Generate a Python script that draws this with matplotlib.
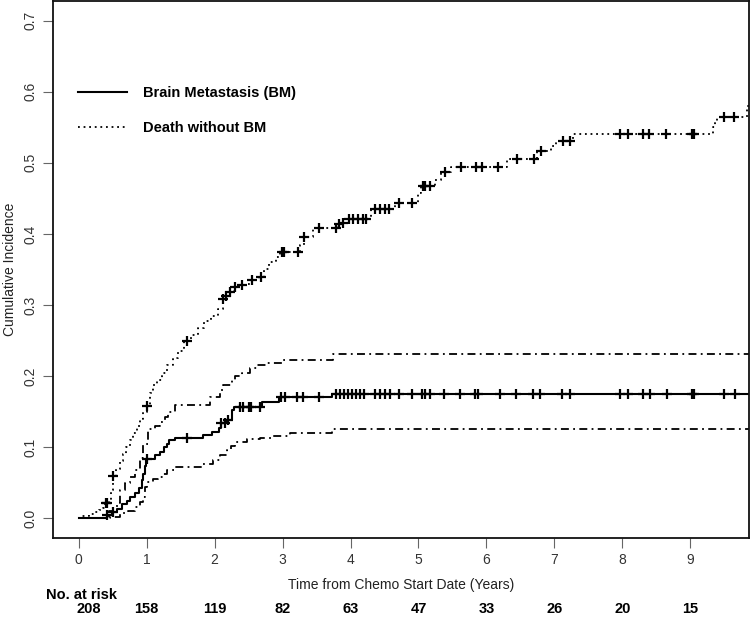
import numpy as np
import matplotlib
matplotlib.use('Agg')
import matplotlib.pyplot as plt
import matplotlib.transforms as mtransforms

plt.rcParams['font.family'] = ['Liberation Sans', 'DejaVu Sans']

# ---- data ----
# Brain metastasis cumulative incidence (step, post)
bm_t = [0.0, 0.41, 0.49, 0.56, 0.63, 0.71, 0.76, 0.83, 0.88, 0.93, 0.95, 0.97, 0.99,
        1.12, 1.20, 1.25, 1.30, 1.33, 1.42, 1.83, 1.96, 2.06, 2.09, 2.17, 2.25, 2.28,
        2.69, 2.95, 3.72]
bm_y = [0.0, 0.005, 0.009, 0.013, 0.020, 0.025, 0.030, 0.035, 0.042, 0.054, 0.063, 0.073, 0.084,
        0.089, 0.094, 0.101, 0.105, 0.110, 0.1125, 0.117, 0.122, 0.1265, 0.134, 0.139, 0.152, 0.157,
        0.163, 0.170, 0.175]
bm_cens = [0.41, 0.51, 1.00, 1.60, 2.10, 2.15, 2.20, 2.37, 2.41, 2.51, 2.53, 2.67,
           2.98, 3.03, 3.21, 3.30, 3.53, 3.78, 3.84, 3.90, 3.96, 4.02, 4.08, 4.14, 4.20,
           4.36, 4.43, 4.51, 4.58, 4.72, 4.91, 5.05, 5.10, 5.17, 5.37, 5.61, 5.83, 5.88,
           6.20, 6.44, 6.69, 6.79, 7.11, 7.23, 7.97, 8.09, 8.31, 8.40, 8.65, 9.03, 9.05,
           9.50, 9.66]

# 95% CI of BM incidence
up_t = [0.0, 0.45, 0.50, 0.56, 0.61, 0.68, 0.75, 0.83, 0.90, 0.95, 1.02, 1.12, 1.20, 1.27,
        1.32, 1.42, 1.93, 2.08, 2.13, 2.25, 2.30, 2.40, 2.52, 2.62, 2.75, 3.00, 3.74]
up_y = [0.0, 0.010, 0.015, 0.021, 0.040, 0.050, 0.058, 0.068, 0.085, 0.105, 0.125, 0.130, 0.136, 0.143,
        0.150, 0.159, 0.171, 0.180, 0.1875, 0.195, 0.200, 0.205, 0.211, 0.215, 0.218, 0.2225, 0.231]
lo_t = [0.0, 0.46, 0.61, 0.72, 0.83, 0.90, 0.95, 0.98, 1.01, 1.10, 1.17, 1.24, 1.30, 1.42,
        1.83, 1.98, 2.08, 2.18, 2.24, 2.30, 2.47, 2.67, 2.86, 3.11, 3.30, 3.72]
lo_y = [0.0, 0.002, 0.007, 0.011, 0.016, 0.023, 0.030, 0.044, 0.051, 0.055, 0.0585, 0.063, 0.068, 0.0725,
        0.077, 0.082, 0.089, 0.096, 0.102, 0.108, 0.111, 0.1125, 0.116, 0.1195, 0.1205, 0.1256]

# Death without BM cumulative incidence
death_t = [0.0, 0.05, 0.15, 0.22, 0.30, 0.36, 0.39, 0.44, 0.48, 0.50, 0.55, 0.60, 0.65, 0.70,
           0.75, 0.80, 0.85, 0.90, 0.95, 1.00, 1.05, 1.10, 1.15, 1.22, 1.30, 1.38, 1.46, 1.55,
           1.65, 1.75, 1.85, 1.95, 2.05, 2.12, 2.16, 2.22, 2.28, 2.35, 2.45, 2.55, 2.65, 2.72,
           2.80, 2.90, 2.96, 3.26, 3.31, 3.45, 3.82, 3.87, 3.93, 4.30, 4.65, 5.00, 5.04, 5.25,
           5.33, 5.48, 6.30, 6.74, 6.95, 7.02, 7.28, 9.33, 9.37, 9.40, 9.84]
death_y = [0.0, 0.004, 0.006, 0.009, 0.012, 0.015, 0.021, 0.025, 0.040, 0.060, 0.070, 0.080, 0.090, 0.100,
           0.110, 0.120, 0.130, 0.140, 0.150, 0.158, 0.176, 0.187, 0.194, 0.205, 0.215, 0.225, 0.235, 0.250,
           0.258, 0.268, 0.278, 0.285, 0.295, 0.308, 0.312, 0.318, 0.325, 0.328, 0.330, 0.335, 0.340, 0.350,
           0.360, 0.368, 0.374, 0.385, 0.396, 0.409, 0.4135, 0.416, 0.421, 0.435, 0.443, 0.457, 0.467, 0.476,
           0.487, 0.494, 0.505, 0.517, 0.524, 0.530, 0.5405, 0.550, 0.558, 0.564, 0.580]
death_cens = [0.40, 0.42, 0.51, 1.01, 1.60, 2.13, 2.17, 2.22, 2.30, 2.40, 2.55, 2.68, 2.99, 3.02,
              3.22, 3.31, 3.53, 3.79, 3.83, 3.89, 3.98, 4.04, 4.11, 4.19, 4.23, 4.36, 4.43, 4.51,
              4.57, 4.72, 4.91, 5.06, 5.10, 5.17, 5.39, 5.63, 5.85, 5.94, 6.17, 6.45, 6.70, 6.80,
              7.12, 7.23, 7.97, 8.09, 8.31, 8.39, 8.64, 9.03, 9.05, 9.50, 9.65]

end_time = 9.95

risk_times = [0, 1, 2, 3, 4, 5, 6, 7, 8, 9]
risk_n = [208, 158, 119, 82, 63, 47, 33, 26, 20, 15]


def step_at(t, y, q):
    t = np.asarray(t)
    y = np.asarray(y)
    idx = np.searchsorted(t, q, side='right') - 1
    return y[idx]


def extend(t, y):
    return list(t) + [end_time], list(y) + [y[-1]]


fig = plt.figure(figsize=(7.51, 6.17), dpi=100)
ax = fig.add_axes([0.0702, 0.1276, 0.9275, 0.8713])

dotdash = (0, (4.4, 2.4, 1.0, 2.4))
dotted = (0, (1.0, 2.1))

t, y = extend(up_t, up_y)
ax.step(t, y, where='post', color='black', lw=1.3, linestyle=dotdash)
t, y = extend(lo_t, lo_y)
ax.step(t, y, where='post', color='black', lw=1.3, linestyle=dotdash)
t, y = extend(bm_t, bm_y)
ax.step(t, y, where='post', color='black', lw=1.5, label='Brain Metastasis (BM)')
t, y = extend(death_t, death_y)
ax.step(t, y, where='post', color='black', lw=1.3, linestyle=dotted, label='Death without BM')

ax.plot(bm_cens, step_at(bm_t, bm_y, bm_cens), linestyle='none', marker='+',
        ms=7, mew=1.6, color='black')
ax.plot(death_cens, step_at(death_t, death_y, death_cens), linestyle='none', marker='+',
        ms=7, mew=1.6, color='black')

ax.set_xlim(-0.383, 9.868)
ax.set_ylim(-0.028, 0.728)
ax.set_xticks(range(0, 10))
ax.set_yticks(np.arange(0, 0.71, 0.1))
ax.set_yticklabels([f'{v:.1f}' for v in np.arange(0, 0.71, 0.1)], rotation=90, va='center')
ax.tick_params(direction='out', length=7.2, width=0.8, color='#666666', labelcolor='#333333',
               labelsize=10, pad=3.6)
for s in ax.spines.values():
    s.set_linewidth(1.3)
    s.set_color('#111111')

ax.set_xlabel('Time from Chemo Start Date (Years)', fontsize=10, color='#222222', labelpad=8)
ax.set_ylabel('Cumulative Incidence', fontsize=10, color='#222222', labelpad=5)

leg = ax.legend(loc='upper left', bbox_to_anchor=(0.036, 0.841), frameon=False,
                handlelength=3.35, handletextpad=1.1, labelspacing=1.45, borderpad=0,
                borderaxespad=0, prop={'weight': 'bold', 'size': 10.5})

trans = mtransforms.blended_transform_factory(ax.transData, fig.transFigure)
fig.text(46 / 751, 1 - 595 / 617, 'No. at risk', fontsize=10.5, fontweight='bold',
         ha='left', va='center')
for i, (rt, n) in enumerate(zip(risk_times, risk_n)):
    xpos = rt + (0.14 if i == 0 else 0.0)
    ax.text(xpos, 1 - 609 / 617, str(n), transform=trans, fontsize=10.5, fontweight='bold',
            ha='center', va='center')

fig.savefig('out.png', dpi=100)
